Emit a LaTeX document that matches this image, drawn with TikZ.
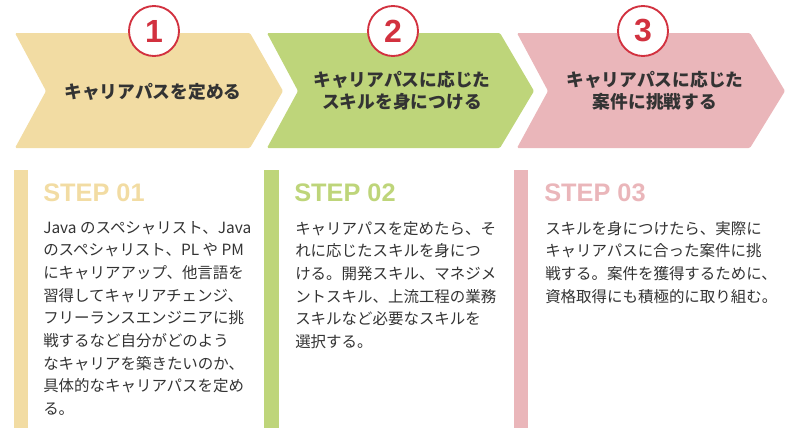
\documentclass[tikz,border=0pt]{standalone}
\usepackage{fontspec}
\usepackage{tikz}
\usetikzlibrary{positioning}
\newfontfamily\jpfont{Noto Sans CJK JP}
\newfontfamily\numfont{Liberation Sans}
\definecolor{stepyellow}{RGB}{242,220,163}
\definecolor{stepgreen}{RGB}{190,213,122}
\definecolor{steppink}{RGB}{234,182,186}
\definecolor{numred}{RGB}{210,49,63}
\definecolor{textgray}{RGB}{51,51,51}

\begin{document}
\begin{tikzpicture}[
  x=0.75pt, y=-0.75pt,
  chev/.style={rounded corners=1pt},
  numcircle/.style={circle, draw=numred, line width=1.4pt, fill=white, minimum size=37.5pt, inner sep=0pt, text=numred, font=\numfont\bfseries\fontsize{24}{24}\selectfont},
  chevtitle/.style={align=center, text=textgray, font=\jpfont\bfseries\fontsize{13.3}{16.5}\selectfont, inner sep=0pt},
  steplabel/.style={anchor=west, inner sep=0pt, font=\numfont\bfseries\fontsize{19}{19}\selectfont},
  bodytext/.style={anchor=north west, align=left, inner sep=0pt, text=textgray, font=\jpfont\fontsize{11.6}{17}\selectfont},
]
  \useasboundingbox (0,0) rectangle (800,440);

  % chevrons
  \fill[chev, stepyellow] (15,33) -- (250,33) -- (283,91) -- (250,148) -- (15,148) -- (46,91) -- cycle;
  \fill[chev, stepgreen] (267,33) -- (500,33) -- (534,91) -- (500,148) -- (267,148) -- (298,91) -- cycle;
  \fill[chev, steppink] (517,33) -- (750,33) -- (785,91) -- (750,148) -- (517,148) -- (548,91) -- cycle;

  \node[numcircle] (n1) at (154,31) {1};
  \node[numcircle] (n2) at (393,31) {2};
  \node[numcircle] (n3) at (643,31) {3};

  \node[chevtitle] (t1) at (153,92) {キャリアパスを定める};
  \node[chevtitle] (t2) at (402,91) {キャリアパスに応じた\\スキルを身につける};
  \node[chevtitle] (t3) at (655,91) {キャリアパスに応じた\\案件に挑戦する};

  % step columns
  \fill[stepyellow] (14,170) rectangle (28,428);
  \fill[stepgreen] (264,170) rectangle (279,428);
  \fill[steppink] (514,170) rectangle (528,428);

  \node[steplabel, text=stepyellow] (s1) at (43,193) {STEP 01};
  \node[steplabel, text=stepgreen] (s2) at (294,193) {STEP 02};
  \node[steplabel, text=steppink] (s3) at (544,193) {STEP 03};

  \node[bodytext] (b1) at (43,221) {Java のスペシャリスト、Java\\
    のスペシャリスト、PL や PM\\
    にキャリアアップ、他言語を\\
    習得してキャリアチェンジ、\\
    フリーランスエンジニアに挑\\
    戦するなど自分がどのよう\\
    なキャリアを築きたいのか、\\
    具体的なキャリアパスを定め\\
    る。};
  \node[bodytext] (b2) at (295,221) {キャリアパスを定めたら、そ\\
    れに応じたスキルを身につ\\
    ける。開発スキル、マネジメ\\
    ントスキル、上流工程の業務\\
    スキルなど必要なスキルを\\
    選択する。};
  \node[bodytext] (b3) at (545,221) {スキルを身につけたら、実際に\\
    キャリアパスに合った案件に挑\\
    戦する。案件を獲得するために、\\
    資格取得にも積極的に取り組む。};
\end{tikzpicture}
\end{document}
